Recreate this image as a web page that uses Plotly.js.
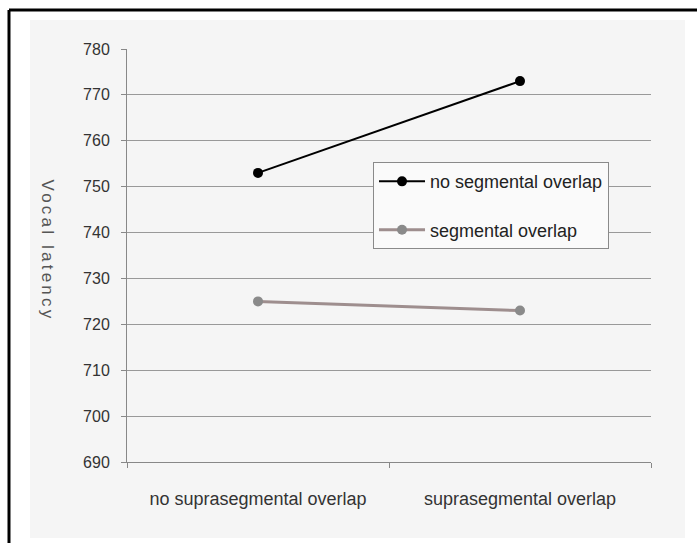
<!DOCTYPE html>
<html>
<head>
<meta charset="utf-8">
<script src="https://cdn.plot.ly/plotly-3.0.1.min.js"></script>
<style>html,body{margin:0;padding:0;background:#fff;}#chart{width:697px;height:543px;}</style>
</head>
<body>
<div id="chart"></div>
<script>
var categories = ["no suprasegmental overlap", "suprasegmental overlap"];
var seriesNames = ["no segmental overlap", "segmental overlap"];
var noSegmentalOverlap = [753, 773];
var segmentalOverlap = [725, 723];
var yTicks = [690, 700, 710, 720, 730, 740, 750, 760, 770, 780];
var yTitle = "Vocal latency";

var sans = "'Liberation Sans', Arial, sans-serif";

var traces = [
  {
    x: categories, y: noSegmentalOverlap, name: seriesNames[0], legendgroup: "a",
    type: "scatter", mode: "lines+markers",
    line: {color: "#000000", width: 2},
    marker: {color: "#000000", size: 10}
  },
  {
    x: categories, y: segmentalOverlap, name: seriesNames[1], legendgroup: "b",
    type: "scatter", mode: "lines+markers",
    line: {color: "#9e8e8e", width: 3},
    marker: {color: "#8a8a8a", size: 10}
  }
];

var layout = {
  width: 697, height: 543,
  margin: {l: 127, r: 46, t: 49, b: 81},
  paper_bgcolor: "#ffffff",
  plot_bgcolor: "rgba(0,0,0,0)",
  showlegend: true,
  legend: {
    x: 0.4695, y: 0.726, xanchor: "left", yanchor: "top",
    bgcolor: "#fafafa", bordercolor: "#8a8a8a", borderwidth: 1,
    font: {family: sans, size: 18, color: "#222"},
    tracegroupgap: 22, itemwidth: 46
  },
  xaxis: {
    type: "category",
    range: [-0.5, 1.5],
    tickson: "boundaries",
    ticks: "outside", ticklen: 5, tickcolor: "#888",
    showline: true, linecolor: "#888", linewidth: 1,
    showgrid: false, zeroline: false,
    tickfont: {family: sans, size: 18, color: "#333"},
    ticklabelstandoff: 20
  },
  yaxis: {
    range: [690, 780],
    tickvals: yTicks,
    ticks: "outside", ticklen: 5, tickcolor: "#888",
    showline: true, linecolor: "#888", linewidth: 1,
    showgrid: true, gridcolor: "#999", gridwidth: 1,
    zeroline: false,
    tickfont: {family: sans, size: 16, color: "#333"},
    ticklabelstandoff: 8
  },
  annotations: [
    {text: yTitle, xref: "paper", yref: "paper", x: -0.1508, y: 0.51, xanchor: "center", yanchor: "middle",
     textangle: 90, showarrow: false, font: {family: sans, size: 17, color: "#555"}}
  ],
  shapes: [
    {type: "rect", xref: "paper", yref: "paper", x0: -0.1851, x1: 1.0649, y0: -0.184, y1: 1.0702,
     fillcolor: "#f5f5f5", line: {width: 0}, layer: "below"},
    {type: "line", xref: "paper", yref: "paper", x0: -0.2252, x1: 1.1, y0: 1.0944, y1: 1.0944,
     line: {color: "#000", width: 3}},
    {type: "line", xref: "paper", yref: "paper", x0: -0.2252, x1: -0.2252, y0: -0.2, y1: 1.0944,
     line: {color: "#000", width: 3}}
  ]
};

Plotly.newPlot("chart", traces, layout, {displayModeBar: false, staticPlot: true}).then(function (gd) {
  var t = gd.querySelectorAll(".annotation-text");
  t.forEach(function (el) { el.style.letterSpacing = "3.2px"; });
});
</script>
</body>
</html>
